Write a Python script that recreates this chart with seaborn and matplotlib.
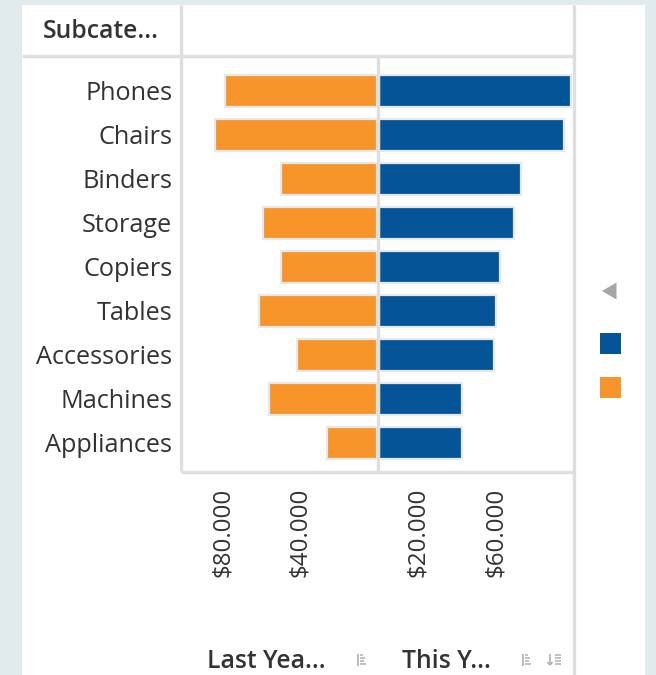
import matplotlib
matplotlib.use("Agg")
import matplotlib.pyplot as plt
from matplotlib.lines import Line2D
from matplotlib.patches import Rectangle, Polygon
import seaborn as sns
import pandas as pd

# ---------------- data ----------------
categories = ["Phones", "Chairs", "Binders", "Storage", "Copiers",
              "Tables", "Accessories", "Machines", "Appliances"]
last_year = [79200, 84400, 50100, 59400, 50100, 61500, 41500, 56100, 25900]
this_year = [98600, 95100, 72600, 69100, 62200, 60100, 59100, 42700, 42700]
left_ticks = [80000, 40000]
left_tick_labels = ["$80.000", "$40.000"]
right_ticks = [20000, 60000]
right_tick_labels = ["$20.000", "$60.000"]
header_label = "Subcate..."
left_title = "Last Yea..."
right_title = "This Y..."

df_last = pd.DataFrame({"cat": categories, "value": last_year})
df_this = pd.DataFrame({"cat": categories, "value": this_year})

# ---------------- style ----------------
sns.set_theme(style="white")
plt.rcParams["font.family"] = ["Open Sans", "DejaVu Sans"]

W, H = 656, 675
fig = plt.figure(figsize=(W / 100, H / 100), dpi=100)
fig.patch.set_facecolor("#e1eaed")


def fx(x):
    return x / W


def fy(y):
    return 1 - y / H


ORANGE = "#f7942a"
BLUE = "#045597"
GRID = "#dedede"
TXT = "#333333"
FS = 18.2
FS_TICK = 17.4

# white panel
fig.add_artist(Rectangle((fx(22), fy(675)), fx(645) - fx(22), fy(5) - fy(675),
                         transform=fig.transFigure, facecolor="white",
                         edgecolor="none", zorder=0))


def fline(x0, y0, x1, y1, color=GRID, lw=2.2, z=5):
    fig.add_artist(Line2D([fx(x0), fx(x1)], [fy(y0), fy(y1)],
                          transform=fig.transFigure, color=color, lw=lw,
                          zorder=z, solid_capstyle="butt"))


# axes
top, bottom = 57, 471
axL = fig.add_axes([fx(182), fy(bottom), fx(377) - fx(182), fy(top) - fy(bottom)])
axR = fig.add_axes([fx(379), fy(bottom), fx(573) - fx(379), fy(top) - fy(bottom)])

for ax, d, col in [(axL, df_last, ORANGE), (axR, df_this, BLUE)]:
    sns.barplot(data=d, x="value", y="cat", order=categories, orient="h",
                color=col, width=0.72, edgecolor="#e8e8e8", linewidth=1.6,
                saturation=1, ax=ax)
    ax.set_facecolor("none")
    for s in ax.spines.values():
        s.set_visible(False)
    ax.set_xlabel("")
    ax.set_ylabel("")
    ax.set_ylim(8.64, -0.77)
    ax.tick_params(axis="x", length=8, width=1.4, color=GRID, pad=4,
                   labelsize=FS_TICK, labelcolor=TXT, labelrotation=90)
    ax.grid(False)

axL.set_xlim(101500, 0)
axR.set_xlim(0, 99500)
axL.set_xticks(left_ticks, left_tick_labels)
axR.set_xticks(right_ticks, right_tick_labels)
for lab in axL.get_xticklabels() + axR.get_xticklabels():
    lab.set_va("top")
    lab.set_ha("center")

axL.tick_params(axis="y", length=0, pad=7, labelsize=FS, labelcolor=TXT)
axR.tick_params(axis="y", length=0, left=False, labelleft=False)
axR.set_yticks([])

# grid / frame lines
fline(22, 55.8, 573, 55.8, lw=2.4)          # header bottom
fline(180.5, 5, 180.5, bottom, lw=2.4)       # left column divider
fline(377.8, top, 377.8, bottom, lw=2.4)     # middle divider
fline(573.5, 5, 573.5, 675, lw=2.4)          # right divider
fline(180.5, bottom + 0.5, 573.5, bottom + 0.5, lw=2.4)  # bottom axis line

# header
fig.text(fx(101), fy(38.5), header_label, ha="center", va="baseline",
         fontsize=17.8, color=TXT, fontweight="semibold")

# bottom titles
fig.text(fx(266), fy(668), left_title, ha="center", va="baseline",
         fontsize=17.8, color=TXT, fontweight="semibold")
fig.text(fx(446), fy(668), right_title, ha="center", va="baseline",
         fontsize=17.8, color=TXT, fontweight="semibold")


# sort icons
def sort_icon(x, y, arrow=False):
    c = "#b0b0b0"
    if arrow:
        fline(x, y, x, y + 11, color=c, lw=1.2, z=6)
        fline(x - 2.5, y + 8, x, y + 11, color=c, lw=1.2, z=6)
        fline(x + 2.5, y + 8, x, y + 11, color=c, lw=1.2, z=6)
        x += 5
        for i, ln in enumerate([6, 6, 6, 6]):
            fline(x, y + 1 + i * 3, x + ln, y + 1 + i * 3, color=c, lw=1.1, z=6)
    else:
        fline(x, y, x, y + 12, color=c, lw=1.2, z=6)
        for i, ln in enumerate([3, 5, 4, 6]):
            fline(x + 2, y + 1 + i * 3, x + 2 + ln, y + 1 + i * 3, color=c, lw=1.1, z=6)


sort_icon(358, 654)
sort_icon(522.5, 654)
sort_icon(550, 654, arrow=True)

# legend area
fig.add_artist(Polygon([[fx(616.5), fy(282.5)], [fx(616.5), fy(299.5)],
                        [fx(602), fy(291)]], closed=True,
                       transform=fig.transFigure, facecolor="#a6a6a6",
                       edgecolor="none", zorder=6))
fig.add_artist(Rectangle((fx(600), fy(353.7)), fx(621) - fx(600), fy(332.7) - fy(353.7),
                         transform=fig.transFigure, facecolor=BLUE,
                         edgecolor="none", zorder=6))
fig.add_artist(Rectangle((fx(600), fy(397.7)), fx(621) - fx(600), fy(376.7) - fy(397.7),
                         transform=fig.transFigure, facecolor=ORANGE,
                         edgecolor="none", zorder=6))

fig.savefig("out.png", dpi=100, facecolor=fig.get_facecolor())
